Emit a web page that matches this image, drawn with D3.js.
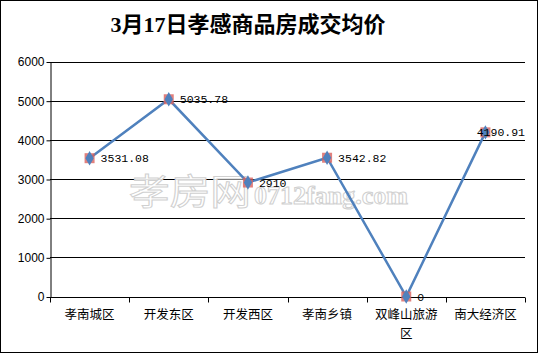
<!DOCTYPE html>
<html><head><meta charset="utf-8">
<script src="https://cdn.jsdelivr.net/npm/d3@7"></script>
<style>body{margin:0;background:#fff}svg{display:block}</style>
</head><body>
<script>
const categories = ["孝南城区","开发东区","开发西区","孝南乡镇","双峰山旅游区","南大经济区"];
const categoryLines = [["孝南城区"],["开发东区"],["开发西区"],["孝南乡镇"],["双峰山旅游","区"],["南大经济区"]];
const values = [3531.08, 5035.78, 2910, 3542.82, 0, 4190.91];
const valueLabels = ["3531.08","5035.78","2910","3542.82","0","4190.91"];
const yTicks = [0,1000,2000,3000,4000,5000,6000];
const title = "3月17日孝感商品房成交均价";

const W = 539, H = 354;
const svg = d3.select("body").append("svg").attr("width", W).attr("height", H);
svg.append("rect").attr("x",0.5).attr("y",0.5).attr("width",W-2).attr("height",H-2)
  .attr("fill","#fff").attr("stroke","#000").attr("stroke-width",1);

const x = d3.scaleBand().domain(categories).range([50,525]);
const y = d3.scaleLinear().domain([0,6000]).range([296.5,61.5]);

svg.append("text").attr("x",248).attr("y",32).attr("text-anchor","middle")
  .attr("font-family","'Liberation Serif','Noto Sans CJK SC',serif").attr("font-weight","bold")
  .attr("font-size",22).attr("fill","#000").text(title);

// gridlines
svg.append("g").selectAll("line").data(yTicks.filter(d=>d>0)).join("line")
  .attr("x1",50).attr("x2",525).attr("y1",d=>Math.round(y(d))+0.5).attr("y2",d=>Math.round(y(d))+0.5)
  .attr("stroke","#000").attr("stroke-width",1);

// y axis
const ya = svg.append("g").attr("transform","translate(50.5,0.5)")
  .call(d3.axisLeft(y).tickValues(yTicks).tickSize(4).tickSizeOuter(0).tickFormat(d3.format("d")));
ya.select(".domain").attr("stroke","#000");
ya.selectAll(".tick line").attr("stroke","#000");
ya.selectAll(".tick text").attr("font-family","'Liberation Sans',Arial,sans-serif").attr("font-size",12).attr("fill","#000").attr("x",-6);

// x axis
const xa = svg.append("g").attr("transform","translate(0,"+(Math.round(y(0))+0.5)+")");
xa.append("line").attr("x1",50).attr("x2",525).attr("stroke","#000");
const bounds = categories.map(c=>x(c)).concat([525]);
xa.selectAll("line.tk").data(bounds).join("line").attr("class","tk")
  .attr("x1",d=>Math.round(d)+0.5).attr("x2",d=>Math.round(d)+0.5).attr("y1",0).attr("y2",5).attr("stroke","#000");
categories.forEach((c,i)=>{
  const t = xa.append("text").attr("text-anchor","middle")
    .attr("font-family","'Noto Sans CJK SC',sans-serif").attr("font-size",12.5).attr("fill","#000");
  categoryLines[i].forEach((ln,j)=>{
    t.append("tspan").attr("x",x(c)+x.bandwidth()/2).attr("y",21+j*19).text(ln);
  });
});

// watermark
const wm = svg.append("g").attr("fill","rgba(255,255,255,0.9)").attr("stroke","#d0d0d0").attr("stroke-width",1);
wm.append("text").attr("x",129).attr("y",205).attr("font-family","'Noto Sans CJK SC',sans-serif")
  .attr("font-size",36).attr("textLength",122).attr("lengthAdjust","spacingAndGlyphs").text("孝房网");
wm.append("text").attr("x",254).attr("y",204).attr("font-family","'Liberation Serif',serif").attr("font-weight","bold")
  .attr("font-size",25).attr("textLength",154).attr("lengthAdjust","spacingAndGlyphs").text("0712fang.com");

// line
const cx = (d,i)=>x(categories[i])+x.bandwidth()/2;
svg.append("path").datum(values)
  .attr("d", d3.line().x((d,i)=>cx(d,i)).y(d=>y(d)))
  .attr("fill","none").attr("stroke","#4f81bd").attr("stroke-width",2.5);

// markers
const mk = svg.append("g").selectAll("g").data(values).join("g")
  .attr("transform",(d,i)=>`translate(${cx(d,i)},${y(d)})`);
mk.append("rect").attr("x",-5).attr("y",-5).attr("width",10).attr("height",10)
  .attr("fill","#d9605c").attr("fill-opacity",0.8);
mk.append("path").attr("d",d3.symbol(d3.symbolDiamond,60)()).attr("fill","#4f81bd");

// labels
svg.append("g").selectAll("text").data(values).join("text")
  .attr("font-family","'Liberation Mono',monospace").attr("font-size",11.5).attr("fill","#000")
  .attr("x",(d,i)=>Math.min(cx(d,i)+11, 525-valueLabels[i].length*6.9))
  .attr("y",d=>y(d)+4)
  .text((d,i)=>valueLabels[i]);
</script>
</body></html>
